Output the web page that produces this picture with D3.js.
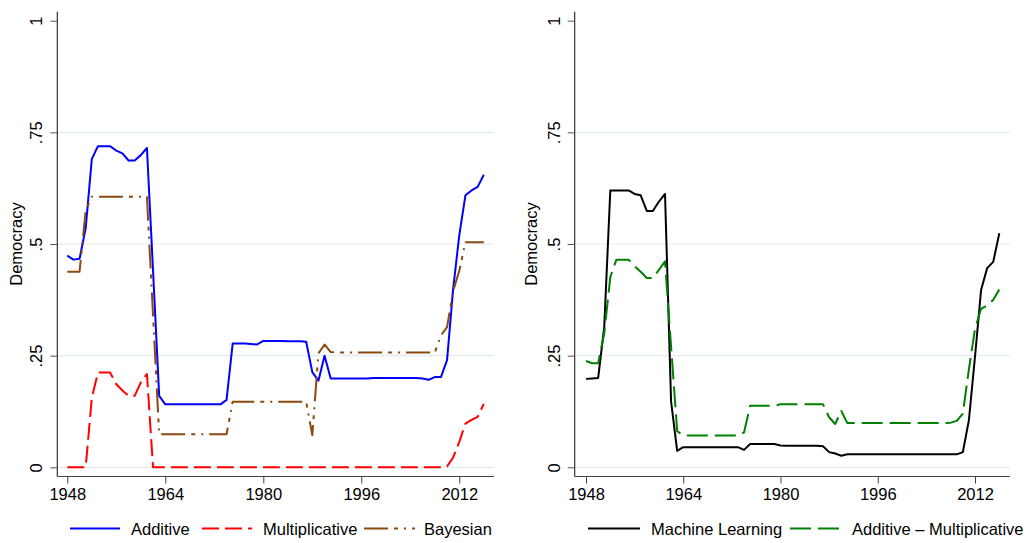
<!DOCTYPE html>
<html><head><meta charset="utf-8">
<script src="https://cdn.jsdelivr.net/npm/d3@7"></script>
<style>
body{margin:0;background:#fff}
svg{display:block}
text{font-family:"Liberation Sans",Arial,Helvetica,sans-serif;fill:#000}
</style>
</head><body>
<svg id="c" width="1029" height="543"></svg>
<script>
// ---------------- data ----------------
const years = [1948,1949,1950,1951,1952,1953,1954,1955,1956,1957,1958,1959,1960,1961,1962,1963,
  1964,1965,1966,1967,1968,1969,1970,1971,1972,1973,1974,1975,1976,1977,1978,1979,
  1980,1981,1982,1983,1984,1985,1986,1987,1988,1989,1990,1991,1992,1993,1994,1995,
  1996,1997,1998,1999,2000,2001,2002,2003,2004,2005,2006,2007,2008,2009,2010,2011,
  2012,2013,2014,2015,2016];

const additive = [.474,.465,.467,.535,.690,.719,.719,.719,.709,.703,.687,.687,.699,.715,.440,.160,
  .141,.141,.141,.141,.141,.141,.141,.141,.141,.141,.151,.277,.277,.277,.276,.275,
  .283,.283,.283,.283,.282,.282,.282,.281,.213,.194,.250,.199,.199,.199,.199,.199,
  .199,.199,.200,.200,.200,.200,.200,.200,.200,.200,.199,.196,.202,.202,.240,.400,
  .520,.609,.620,.628,.655];

const multiplicative = [0,0,0,0,.155,.212,.212,.212,.186,.172,.160,.160,.190,.209,0,0,
  0,0,0,0,0,0,0,0,0,0,0,0,0,0,0,0,
  0,0,0,0,0,0,0,0,0,0,0,0,0,0,0,0,
  0,0,0,0,0,0,0,0,0,0,0,0,0,0,.002,.022,
  .057,.098,.106,.113,.142];

const bayesian = [.438,.438,.438,.575,.606,.606,.606,.606,.606,.606,.606,.606,.606,.606,.340,.074,
  .074,.074,.074,.074,.074,.074,.074,.074,.074,.074,.074,.147,.147,.147,.147,.147,
  .147,.147,.147,.147,.147,.147,.147,.147,.072,.255,.275,.258,.257,.257,.257,.257,
  .257,.257,.257,.257,.257,.257,.257,.257,.257,.257,.257,.257,.257,.295,.314,.395,
  .440,.504,.504,.504,.504];

const machineLearning = [.198,.199,.200,.314,.620,.620,.620,.620,.612,.609,.574,.574,.595,.612,.147,.037,
  .045,.045,.045,.045,.045,.045,.045,.045,.045,.045,.039,.052,.052,.052,.052,.052,
  .049,.048,.048,.048,.048,.048,.048,.047,.034,.031,.026,.029,.029,.029,.029,.029,
  .029,.029,.029,.029,.029,.029,.029,.029,.029,.029,.029,.029,.029,.029,.034,.106,
  .248,.397,.446,.460,.524];

const addMinusMult = [.238,.233,.233,.300,.426,.465,.465,.465,.450,.438,.424,.424,.442,.461,.270,.081,
  .071,.071,.071,.071,.071,.071,.071,.071,.071,.071,.078,.138,.138,.138,.138,.138,
  .141,.141,.141,.141,.141,.141,.141,.141,.112,.097,.126,.099,.099,.099,.099,.099,
  .099,.099,.099,.099,.099,.099,.099,.099,.099,.099,.099,.099,.100,.104,.120,.220,
  .310,.355,.362,.375,.398];

const xTicks = [1948,1964,1980,1996,2012];
const yTicks = [0,0.25,0.5,0.75,1];
const yTickLabels = ["0",".25",".5",".75","1"];
const gridTicks = [0,0.25,0.5,0.75];
const yTitle = "Democracy";

const leftNames = ["Additive","Multiplicative","Bayesian"];
const rightNames = ["Machine Learning","Additive \u2013 Multiplicative"];

// ---------------- styles ----------------
const styleMap = {
  "Additive": {color:"#0000ff", dash:null},
  "Multiplicative": {color:"#ff0000", dash:"17,6"},
  "Bayesian": {color:"#8a4a10", dash:"24,6,4,6,2,6"},
  "Machine Learning": {color:"#000000", dash:null},
  "Additive \u2013 Multiplicative": {color:"#008000", dash:"21,7"}
};

const svg = d3.select("#c");
const FS = 16.5;
const y = d3.scaleLinear().domain([0,1]).range([467.3,20.7]);

function panel(cfg){
  const g = svg.append("g");
  const x = d3.scaleLinear().domain([1948,2012]).range(cfg.xr);
  const axisY = 476.5;

  // gridlines
  g.selectAll("line.grid").data(gridTicks).join("line")
    .attr("x1",cfg.axisX).attr("x2",cfg.axisEnd)
    .attr("y1",d=>y(d)).attr("y2",d=>y(d))
    .attr("stroke","#e3ecef").attr("stroke-width",1.2);

  // series
  const line = d3.line().x((d,i)=>x(years[i])).y(d=>y(d));
  cfg.series.forEach(s=>{
    const st = styleMap[s.name];
    g.append("path").datum(s.values)
      .attr("d",line).attr("fill","none")
      .attr("stroke",st.color).attr("stroke-width",2)
      .attr("stroke-linejoin","round")
      .attr("stroke-dasharray",st.dash);
  });

  // axes lines
  g.append("line").attr("x1",cfg.axisX).attr("x2",cfg.axisX).attr("y1",11.7).attr("y2",axisY)
    .attr("stroke","#222").attr("stroke-width",1.1);
  g.append("line").attr("x1",cfg.axisX).attr("x2",cfg.axisEnd).attr("y1",axisY).attr("y2",axisY)
    .attr("stroke","#444").attr("stroke-width",1.1);

  // x axis
  const xa = g.append("g").attr("transform",`translate(0,${axisY})`)
    .call(d3.axisBottom(x).tickValues(xTicks).tickSize(7).tickPadding(5).tickFormat(d3.format("d")));
  xa.select(".domain").remove();
  xa.selectAll("line").attr("stroke","#444");
  xa.selectAll("text").attr("font-size",FS).attr("font-family",null).style("fill","#000");

  // y axis
  const ya = g.append("g").attr("transform",`translate(${cfg.axisX},0)`)
    .call(d3.axisLeft(y).tickValues(yTicks).tickSize(7).tickFormat((d,i)=>yTickLabels[i]));
  ya.select(".domain").remove();
  ya.selectAll("line").attr("stroke","#555");
  ya.selectAll("text")
    .attr("transform","rotate(-90)")
    .attr("x",0).attr("y",-20.7).attr("dy","0.35em")
    .attr("text-anchor","middle").attr("font-size",FS).attr("font-family",null).style("fill","#000");

  // y title
  g.append("text").attr("transform",`translate(${cfg.titleX},244) rotate(-90)`)
    .attr("text-anchor","middle").attr("font-size",FS).text(yTitle);

  // legend
  cfg.series.forEach((s,i)=>{
    const st = styleMap[s.name];
    const L = cfg.legend[i];
    g.append("line").attr("x1",L[0]).attr("x2",L[1]).attr("y1",528.5).attr("y2",528.5)
      .attr("stroke",st.color).attr("stroke-width",2).attr("stroke-dasharray",st.dash);
    g.append("text").attr("x",L[2]).attr("y",535).attr("font-size",FS).text(s.name);
  });
}

panel({
  axisX:57.3, axisEnd:494, xr:[67.3,459.3], titleX:22,
  series:[{name:leftNames[0],values:additive},{name:leftNames[1],values:multiplicative},{name:leftNames[2],values:bayesian}],
  legend:[[70,120,131],[202,252,263],[364,415,424]]
});
panel({
  axisX:574.7, axisEnd:1010, xr:[586,975], titleX:537,
  series:[{name:rightNames[0],values:machineLearning},{name:rightNames[1],values:addMinusMult}],
  legend:[[588,640,651],[790,841,852]]
});
</script>
</body></html>
